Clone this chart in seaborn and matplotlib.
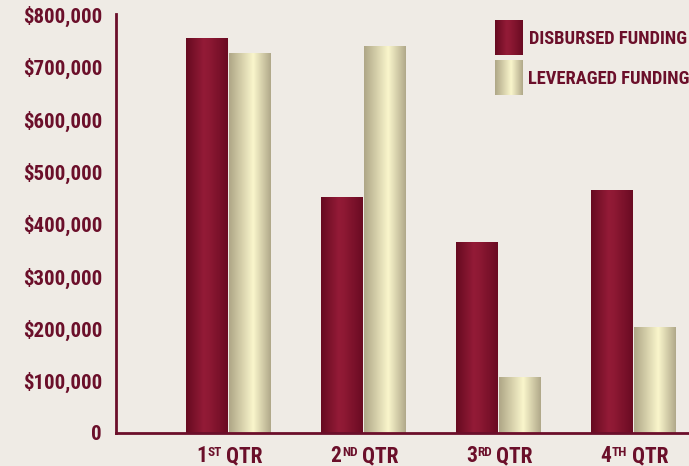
import numpy as np
import pandas as pd
import seaborn as sns
import matplotlib
matplotlib.use("Agg")
import matplotlib.pyplot as plt
from matplotlib.patches import Rectangle
from matplotlib.colors import LinearSegmentedColormap
from matplotlib.transforms import IdentityTransform

# ---- data ----
quarter_nums = ["1", "2", "3", "4"]
quarter_sups = ["ST", "ND", "RD", "TH"]
disbursed = [755000, 452000, 366000, 465000]
leveraged = [726000, 739000, 107000, 203000]
series_names = ["DISBURSED FUNDING", "LEVERAGED FUNDING"]
ytick_vals = [0, 100000, 200000, 300000, 400000, 500000, 600000, 700000, 800000]

MAROON_TXT = "#6b0f2a"
BG = "#efebe5"
FONT = ["Liberation Sans Narrow", "Roboto Condensed", "DejaVu Sans"]

sns.set_style("white")
plt.rcParams["font.family"] = FONT
plt.rcParams["font.weight"] = "bold"

cats = [f"Q{n}" for n in quarter_nums]
df = pd.DataFrame({
    "quarter": cats * 2,
    "series": [series_names[0]] * 4 + [series_names[1]] * 4,
    "value": disbursed + leveraged,
})

W, H = 689, 466
fig = plt.figure(figsize=(W / 100, H / 100), dpi=100, facecolor=BG)
ax = fig.add_axes([116 / W, 33 / H, 1 - 116 / W, (433 - 14.5) / H])
ax.set_facecolor(BG)

sns.barplot(data=df, x="quarter", y="value", hue="series",
            palette=["#8a1732", "#e6e0b4"], width=0.64, gap=0.045,
            legend=False, ax=ax, saturation=1)

cm_maroon = LinearSegmentedColormap.from_list(
    "m", [(0, "#660a20"), (0.42, "#931b37"), (0.55, "#8e1934"), (1, "#6a0b22")])
cm_beige = LinearSegmentedColormap.from_list(
    "b", [(0, "#aea686"), (0.58, "#faf6cc"), (1, "#b0a889")])

grad = np.linspace(0, 1, 256).reshape(1, -1)
xlim = (-0.83, 3.417)
ylim = (0, 800000)

bars = [p for p in ax.patches if isinstance(p, Rectangle)]
for p in bars:
    fc = p.get_facecolor()
    cmap = cm_maroon if fc[0] - fc[2] > 0.2 else cm_beige
    x0, y0 = p.get_x(), p.get_y()
    w, h = p.get_width(), p.get_height()
    im = ax.imshow(grad, cmap=cmap, aspect="auto",
                   extent=[x0, x0 + w, y0, y0 + h], zorder=p.get_zorder() + 0.1)
    im.set_clip_path(p)
    p.set_facecolor("none")
    p.set_edgecolor("none")

ax.set_xlim(*xlim)
ax.set_ylim(*ylim)

for s in ["top", "right"]:
    ax.spines[s].set_visible(False)
for s in ["left", "bottom"]:
    ax.spines[s].set_color(MAROON_TXT)
    ax.spines[s].set_linewidth(2)
    ax.spines[s].set_zorder(5)

ax.set_yticks(ytick_vals)
ax.set_yticklabels(["0"] + [f"${v:,.0f}" for v in ytick_vals[1:]])
ax.tick_params(axis="y", direction="in", length=13, width=2.2, color=MAROON_TXT,
               labelcolor=MAROON_TXT, labelsize=15, pad=10)
for t in ax.get_yticklabels():
    t.set_fontweight("bold")
ax.set_xticks(range(len(cats)))
ax.set_xticklabels([""] * len(cats))
ax.tick_params(axis="x", length=0)
ax.set_xlabel("")
ax.set_ylabel("")

# ---- x labels with small superscripts ----
fig.canvas.draw()
renderer = fig.canvas.get_renderer()
idt = IdentityTransform()
base_y = H - 462  # baseline in display pixels (from bottom)
big, small = 15.5, 9.5
for i, (n, s) in enumerate(zip(quarter_nums, quarter_sups)):
    cx = ax.transData.transform((i, 0))[0] + 1.5
    t1 = fig.text(0, base_y, n, fontsize=big, color=MAROON_TXT, fontweight="bold",
                  va="baseline", ha="left", transform=idt)
    t2 = fig.text(0, base_y + 6.3, s, fontsize=small, color=MAROON_TXT,
                  fontweight="bold", va="baseline", ha="left", transform=idt)
    t3 = fig.text(0, base_y, " QTR", fontsize=big, color=MAROON_TXT,
                  fontweight="bold", va="baseline", ha="left", transform=idt)
    w1 = t1.get_window_extent(renderer).width
    w2 = t2.get_window_extent(renderer).width
    w3 = t3.get_window_extent(renderer).width
    left = cx - (w1 + w2 + w3) / 2
    t1.set_x(left)
    t2.set_x(left + w1 + 0.5)
    t3.set_x(left + w1 + w2)

# ---- legend with gradient swatches ----
def fig_grad_box(px0, py_top, pw, ph, cmap):
    axg = fig.add_axes([px0 / W, (H - py_top - ph) / H, pw / W, ph / H])
    axg.imshow(grad, cmap=cmap, aspect="auto")
    axg.axis("off")

fig_grad_box(495, 20, 28, 35, cm_maroon)
fig_grad_box(495, 60, 28, 35, cm_beige)
fig.text(529 / W, 1 - 39 / H, series_names[0], color=MAROON_TXT, fontsize=13.3,
         fontweight="bold", va="center", ha="left")
fig.text(528 / W, 1 - 79 / H, series_names[1], color=MAROON_TXT, fontsize=13.3,
         fontweight="bold", va="center", ha="left")

fig.savefig("out.png", dpi=100, facecolor=BG)
